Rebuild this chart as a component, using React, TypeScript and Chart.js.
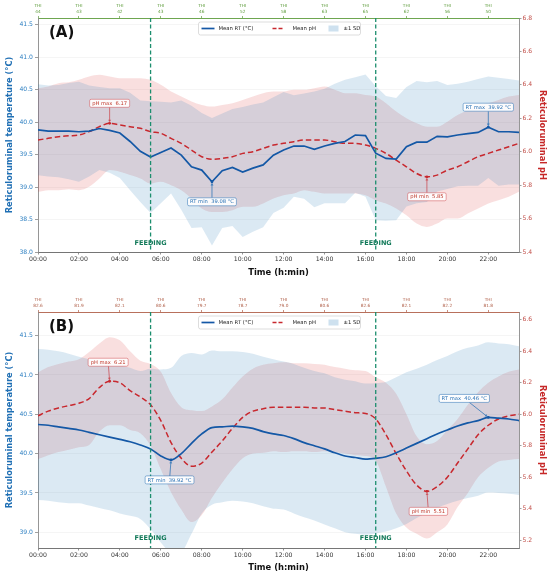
import { useEffect, useRef } from 'react';
import { Chart, registerables } from 'chart.js';

Chart.register(...registerables);

const FONT = "'DejaVu Sans', 'Liberation Sans', sans-serif";

const BLUE = '#1458a6';
const RED = '#c8282e';
const BLUE_BAND = 'rgba(31,119,180,0.16)';
const RED_BAND = 'rgba(214,39,40,0.15)';
const FEED = '#1c8e6e';

// half-hour samples, hours since midnight
const hours = [0, 0.5, 1, 1.5, 2, 2.5, 3, 3.5, 4, 4.5, 5, 5.5, 6, 6.5, 7, 7.5, 8, 8.5, 9, 9.5, 10, 10.5, 11, 11.5,
  12, 12.5, 13, 13.5, 14, 14.5, 15, 15.5, 16, 16.5, 17, 17.5, 18, 18.5, 19, 19.5, 20, 20.5, 21, 21.5, 22, 22.5, 23, 23.5];

const timeTickHours = [0, 2, 4, 6, 8, 10, 12, 14, 16, 18, 20, 22];
const timeTickLabels = ['00:00', '02:00', '04:00', '06:00', '08:00', '10:00', '12:00', '14:00', '16:00', '18:00', '20:00', '22:00'];
const feedingHours = [5.5, 16.5];

// panel A
const thiA = ['44', '43', '42', '43', '46', '52', '58', '63', '65', '62', '56', '50'];
const rtMeanA = [39.88, 39.86, 39.86, 39.86, 39.85, 39.86, 39.90, 39.87, 39.83, 39.70, 39.55, 39.46, 39.53, 39.60, 39.49, 39.31,
  39.26, 39.08, 39.25, 39.30, 39.23, 39.29, 39.34, 39.49, 39.57, 39.63, 39.63, 39.58, 39.63, 39.67, 39.70, 39.80,
  39.79, 39.52, 39.44, 39.43, 39.62, 39.69, 39.69, 39.78, 39.77, 39.80, 39.82, 39.84, 39.92, 39.85, 39.85, 39.84];
const rtSdA = [0.70, 0.70, 0.71, 0.74, 0.77, 0.70, 0.64, 0.65, 0.69, 0.75, 0.78, 0.86, 0.78, 0.70, 0.84, 0.94,
  0.88, 0.98, 0.88, 0.90, 1.00, 0.98, 0.96, 0.89, 0.89, 0.78, 0.81, 0.89, 0.88, 0.92, 0.95, 0.89,
  0.94, 1.03, 0.96, 0.94, 0.92, 0.94, 0.92, 0.85, 0.80, 0.79, 0.80, 0.82, 0.78, 0.83, 0.81, 0.80];
const phMeanA = [6.07, 6.08, 6.09, 6.095, 6.10, 6.12, 6.15, 6.17, 6.16, 6.15, 6.14, 6.12, 6.11, 6.08, 6.05, 6.01,
  5.97, 5.955, 5.96, 5.97, 5.99, 6.00, 6.02, 6.04, 6.05, 6.06, 6.07, 6.07, 6.07, 6.06, 6.05, 6.05,
  6.04, 6.02, 5.99, 5.95, 5.91, 5.87, 5.85, 5.86, 5.89, 5.91, 5.94, 5.97, 5.99, 6.01, 6.03, 6.05];
const phSdA = [0.31, 0.31, 0.32, 0.32, 0.33, 0.33, 0.31, 0.28, 0.28, 0.29, 0.30, 0.31, 0.29, 0.28, 0.28, 0.29,
  0.31, 0.315, 0.32, 0.32, 0.32, 0.33, 0.33, 0.32, 0.31, 0.31, 0.30, 0.31, 0.32, 0.31, 0.30, 0.30,
  0.30, 0.31, 0.30, 0.29, 0.29, 0.30, 0.30, 0.29, 0.29, 0.31, 0.31, 0.31, 0.30, 0.30, 0.30, 0.29];
const rtTicksA = [38.0, 38.5, 39.0, 39.5, 40.0, 40.5, 41.0, 41.5];
const phTicksA = [5.4, 5.6, 5.8, 6.0, 6.2, 6.4, 6.6, 6.8];

// panel B
const thiB = ['82.6', '81.9', '82.1', '80.6', '79.7', '78.7', '79.0', '80.6', '82.6', '82.1', '82.2', '81.8'];
const rtMeanB = [40.37, 40.36, 40.34, 40.32, 40.30, 40.27, 40.24, 40.21, 40.18, 40.15, 40.11, 40.06, 39.97, 39.92, 40.00, 40.13,
  40.25, 40.33, 40.34, 40.35, 40.34, 40.32, 40.28, 40.25, 40.23, 40.19, 40.14, 40.10, 40.06, 40.01, 39.97, 39.95,
  39.93, 39.94, 39.96, 40.01, 40.07, 40.13, 40.19, 40.25, 40.30, 40.35, 40.39, 40.42, 40.46, 40.45, 40.44, 40.42];
const rtSdB = [0.96, 0.96, 0.96, 0.95, 0.93, 0.93, 0.93, 0.93, 0.94, 0.94, 0.94, 1.02, 1.10, 1.17, 1.24, 1.15,
  1.01, 0.98, 0.96, 0.95, 0.95, 0.95, 0.95, 0.95, 0.94, 0.95, 0.95, 0.95, 0.96, 0.96, 0.97, 0.97,
  0.96, 0.955, 0.95, 0.96, 0.965, 0.95, 0.94, 0.94, 0.94, 0.95, 0.955, 0.955, 0.955, 0.95, 0.95, 0.945];
const phMeanB = [5.99, 6.02, 6.04, 6.055, 6.07, 6.10, 6.17, 6.21, 6.20, 6.15, 6.11, 6.06, 5.96, 5.82, 5.72, 5.67,
  5.69, 5.76, 5.83, 5.91, 5.98, 6.02, 6.035, 6.045, 6.045, 6.045, 6.045, 6.04, 6.04, 6.03, 6.02, 6.01,
  6.005, 5.97, 5.87, 5.75, 5.64, 5.55, 5.51, 5.54, 5.60, 5.69, 5.78, 5.87, 5.93, 5.97, 5.99, 6.00];
const phSdB = [0.275, 0.28, 0.28, 0.28, 0.28, 0.295, 0.28, 0.28, 0.27, 0.25, 0.23, 0.26, 0.31, 0.315, 0.325, 0.355,
  0.33, 0.29, 0.265, 0.26, 0.26, 0.27, 0.28, 0.28, 0.285, 0.28, 0.28, 0.28, 0.275, 0.27, 0.27, 0.27,
  0.27, 0.265, 0.33, 0.38, 0.36, 0.31, 0.30, 0.29, 0.30, 0.28, 0.28, 0.27, 0.27, 0.27, 0.28, 0.285];
const rtTicksB = [39.0, 39.5, 40.0, 40.5, 41.0, 41.5];
const phTicksB = [5.2, 5.4, 5.6, 5.8, 6.0, 6.2, 6.4, 6.6];

interface Note { series: 'rt' | 'ph'; kind: 'max' | 'min'; dx: number; dy: number }

interface Panel {
  label: string;
  thi: string[];
  thiColor: string;
  rtMean: number[];
  rtSd: number[];
  phMean: number[];
  phSd: number[];
  rtMin: number;
  rtMax: number;
  phMin: number;
  phMax: number;
  rtTicks: number[];
  phTicks: number[];
  smoothRt: boolean;
  topH: number;
  bottomH: number;
  xTitlePad: number;
  feedOff: number;
  notes: Note[];
}

const panelA: Panel = {
  label: '(A)', thi: thiA, thiColor: '#5e9c3c',
  rtMean: rtMeanA, rtSd: rtSdA, phMean: phMeanA, phSd: phSdA,
  rtMin: 38.0, rtMax: 41.6, phMin: 5.4, phMax: 6.8,
  rtTicks: rtTicksA, phTicks: phTicksA, smoothRt: false,
  topH: 18, bottomH: 36, xTitlePad: 10, feedOff: 9,
  notes: [
    { series: 'ph', kind: 'max', dx: 0, dy: -20 },
    { series: 'rt', kind: 'min', dx: 0, dy: 20 },
    { series: 'rt', kind: 'max', dx: 0, dy: -20 },
    { series: 'ph', kind: 'min', dx: 0, dy: 20 },
  ],
};

const panelB: Panel = {
  label: '(B)', thi: thiB, thiColor: '#b0604a',
  rtMean: rtMeanB, rtSd: rtSdB, phMean: phMeanB, phSd: phSdB,
  rtMin: 38.8, rtMax: 41.8, phMin: 5.15, phMax: 6.65,
  rtTicks: rtTicksB, phTicks: phTicksB, smoothRt: true,
  topH: 24, bottomH: 28, xTitlePad: 3, feedOff: 10,
  notes: [
    { series: 'ph', kind: 'max', dx: -1.5, dy: -19 },
    { series: 'rt', kind: 'min', dx: -1.5, dy: 20 },
    { series: 'rt', kind: 'max', dx: -24, dy: -19 },
    { series: 'ph', kind: 'min', dx: 1.5, dy: 20 },
  ],
};

const pts = (ys: number[]) => hours.map((h, i) => ({ x: h, y: ys[i] }));
const band = (m: number[], s: number[], sign: number) => hours.map((h, i) => ({ x: h, y: m[i] + sign * s[i] }));

function roundRect(ctx: CanvasRenderingContext2D, x: number, y: number, w: number, h: number, r: number) {
  ctx.beginPath();
  ctx.moveTo(x + r, y);
  ctx.lineTo(x + w - r, y);
  ctx.quadraticCurveTo(x + w, y, x + w, y + r);
  ctx.lineTo(x + w, y + h - r);
  ctx.quadraticCurveTo(x + w, y + h, x + w - r, y + h);
  ctx.lineTo(x + r, y + h);
  ctx.quadraticCurveTo(x, y + h, x, y + h - r);
  ctx.lineTo(x, y + r);
  ctx.quadraticCurveTo(x, y, x + r, y);
  ctx.closePath();
}

function drawNote(ctx: CanvasRenderingContext2D, px: number, py: number, n: Note, value: number) {
  const color = n.series === 'rt' ? BLUE : RED;
  const textColor = n.series === 'rt' ? '#2a72b5' : '#c0392b';
  const edge = n.series === 'rt' ? 'rgba(42,114,181,0.75)' : 'rgba(200,40,46,0.6)';
  const text = n.series === 'rt'
    ? `RT ${n.kind}  ${value.toFixed(2)} °C`
    : `pH ${n.kind}  ${value.toFixed(2)}`;
  ctx.font = `5.2px ${FONT}`;
  const w = ctx.measureText(text).width + 5;
  const h = 8;
  const cx = px + n.dx;
  const cy = py + n.dy;
  // arrow from box edge to the point
  const ddx = px - cx;
  const ddy = py - cy;
  const tx = ddx === 0 ? Infinity : (w / 2) / Math.abs(ddx);
  const ty = ddy === 0 ? Infinity : (h / 2) / Math.abs(ddy);
  const t = Math.min(tx, ty);
  const sx = cx + ddx * t;
  const sy = cy + ddy * t;
  const len = Math.hypot(px - sx, py - sy);
  const ux = (px - sx) / len;
  const uy = (py - sy) / len;
  ctx.strokeStyle = edge;
  ctx.lineWidth = 1;
  ctx.beginPath();
  ctx.moveTo(sx, sy);
  ctx.lineTo(px - ux * 2.5, py - uy * 2.5);
  ctx.stroke();
  ctx.fillStyle = edge;
  ctx.beginPath();
  ctx.moveTo(px - ux * 0.8, py - uy * 0.8);
  ctx.lineTo(px - ux * 3.6 - uy * 1.5, py - uy * 3.6 + ux * 1.5);
  ctx.lineTo(px - ux * 3.6 + uy * 1.5, py - uy * 3.6 - ux * 1.5);
  ctx.closePath();
  ctx.fill();
  ctx.fillStyle = color;
  ctx.beginPath();
  ctx.arc(px, py, 1.4, 0, Math.PI * 2);
  ctx.fill();
  // box
  roundRect(ctx, cx - w / 2, cy - h / 2, w, h, 1.5);
  ctx.fillStyle = 'rgba(255,255,255,0.92)';
  ctx.fill();
  ctx.strokeStyle = edge;
  ctx.lineWidth = 0.7;
  ctx.stroke();
  ctx.fillStyle = textColor;
  ctx.textAlign = 'center';
  ctx.textBaseline = 'middle';
  ctx.fillText(text, cx, cy + 0.3);
}

function drawLegend(ctx: CanvasRenderingContext2D, a: { left: number; right: number; top: number }) {
  const w = 162;
  const h = 13;
  const L = (a.left + a.right) / 2 - 80;
  const T = a.top + 4;
  const my = T + h / 2;
  roundRect(ctx, L, T, w, h, 2);
  ctx.fillStyle = 'rgba(255,255,255,0.88)';
  ctx.fill();
  ctx.strokeStyle = '#cfcfcf';
  ctx.lineWidth = 0.7;
  ctx.stroke();
  ctx.lineWidth = 1.7;
  ctx.strokeStyle = BLUE;
  ctx.beginPath();
  ctx.moveTo(L + 3, my);
  ctx.lineTo(L + 16, my);
  ctx.stroke();
  ctx.strokeStyle = RED;
  ctx.lineWidth = 1.5;
  ctx.setLineDash([4, 2]);
  ctx.beginPath();
  ctx.moveTo(L + 74, my);
  ctx.lineTo(L + 86, my);
  ctx.stroke();
  ctx.setLineDash([]);
  ctx.fillStyle = 'rgba(31,119,180,0.22)';
  ctx.fillRect(L + 130, my - 3, 10, 6);
  ctx.fillStyle = '#222';
  ctx.font = `5.3px ${FONT}`;
  ctx.textAlign = 'left';
  ctx.textBaseline = 'middle';
  ctx.fillText('Mean RT (°C)', L + 20, my);
  ctx.fillText('Mean pH', L + 94, my);
  ctx.fillText('±1 SD', L + 145, my);
}

const overlay = (p: Panel) => ({
  id: 'overlay',
  afterDatasetsDraw(chart: any) {
    const { ctx, chartArea: a, scales } = chart;
    const x = scales.x;
    const yT = scales.y;
    const yP = scales.y1;
    ctx.save();

    feedingHours.forEach((hr) => {
      const px = x.getPixelForValue(hr);
      ctx.strokeStyle = FEED;
      ctx.lineWidth = 1.3;
      ctx.setLineDash([4, 2.5]);
      ctx.beginPath();
      ctx.moveTo(px, a.top);
      ctx.lineTo(px, a.bottom);
      ctx.stroke();
      ctx.setLineDash([]);
      ctx.fillStyle = '#137a5a';
      ctx.font = `bold 6.5px ${FONT}`;
      ctx.textAlign = 'center';
      ctx.textBaseline = 'middle';
      ctx.fillText('FEEDING', px, a.bottom - p.feedOff);
    });

    p.notes.forEach((n) => {
      const arr = n.series === 'rt' ? p.rtMean : p.phMean;
      const v = n.kind === 'max' ? Math.max(...arr) : Math.min(...arr);
      const i = arr.indexOf(v);
      const px = x.getPixelForValue(hours[i]);
      const py = (n.series === 'rt' ? yT : yP).getPixelForValue(v);
      drawNote(ctx, px, py, n, v);
    });

    drawLegend(ctx, a);

    ctx.fillStyle = '#111';
    ctx.font = `bold 15px ${FONT}`;
    ctx.textAlign = 'left';
    ctx.textBaseline = 'middle';
    ctx.fillText(p.label, a.left + 11, a.top + 15);
    ctx.restore();
  },
});

function buildConfig(p: Panel): any {
  const smooth = 'monotone';
  return {
    type: 'line',
    data: {
      datasets: [
        {
          label: 'Mean RT (°C)', data: pts(p.rtMean), yAxisID: 'y', borderColor: BLUE, borderWidth: 1.7,
          pointRadius: 0, fill: false, cubicInterpolationMode: p.smoothRt ? smooth : 'default', tension: 0,
        },
        {
          label: 'Mean pH', data: pts(p.phMean), yAxisID: 'y1', borderColor: RED, borderWidth: 1.5,
          borderDash: [5.5, 3], pointRadius: 0, fill: false, cubicInterpolationMode: smooth,
        },
        {
          label: 'RT +SD', data: band(p.rtMean, p.rtSd, 1), yAxisID: 'y', borderWidth: 0, borderColor: 'transparent',
          pointRadius: 0, fill: false, cubicInterpolationMode: p.smoothRt ? smooth : 'default', tension: 0,
        },
        {
          label: 'RT -SD', data: band(p.rtMean, p.rtSd, -1), yAxisID: 'y', borderWidth: 0, borderColor: 'transparent',
          pointRadius: 0, fill: '-1', backgroundColor: BLUE_BAND, cubicInterpolationMode: p.smoothRt ? smooth : 'default', tension: 0,
        },
        {
          label: 'pH +SD', data: band(p.phMean, p.phSd, 1), yAxisID: 'y1', borderWidth: 0, borderColor: 'transparent',
          pointRadius: 0, fill: false, cubicInterpolationMode: smooth,
        },
        {
          label: 'pH -SD', data: band(p.phMean, p.phSd, -1), yAxisID: 'y1', borderWidth: 0, borderColor: 'transparent',
          pointRadius: 0, fill: '-1', backgroundColor: RED_BAND, cubicInterpolationMode: smooth,
        },
      ],
    },
    options: {
      animation: false,
      responsive: false,
      events: [],
      layout: { padding: 0 },
      plugins: { legend: { display: false }, tooltip: { enabled: false } },
      scales: {
        x: {
          type: 'linear', position: 'bottom', min: 0, max: 23.5,
          afterBuildTicks: (s: any) => { s.ticks = timeTickHours.map((v) => ({ value: v })); },
          afterFit: (s: any) => { s.height = p.bottomH; },
          ticks: {
            callback: (v: number) => timeTickLabels[timeTickHours.indexOf(v)],
            color: '#333', font: { family: FONT, size: 6.2 }, padding: 1, maxRotation: 0, autoSkip: false,
          },
          grid: { drawOnChartArea: false, tickLength: 2.5, tickColor: '#666', tickWidth: 0.7 },
          border: { color: '#666', width: 0.9 },
          title: {
            display: true, text: 'Time (h:min)', color: '#111',
            font: { family: FONT, size: 8.4, weight: 'bold' }, padding: { top: 0, bottom: p.xTitlePad },
          },
        },
        xTop: {
          type: 'linear', position: 'top', min: 0, max: 23.5,
          afterBuildTicks: (s: any) => { s.ticks = timeTickHours.map((v) => ({ value: v })); },
          afterFit: (s: any) => { s.height = p.topH; },
          ticks: {
            callback: (v: number) => ['THI', p.thi[timeTickHours.indexOf(v)]],
            color: p.thiColor, font: { family: FONT, size: 4.3, lineHeight: 1.35 }, padding: 1, maxRotation: 0, autoSkip: false,
          },
          grid: { drawOnChartArea: false, tickLength: 2, tickColor: p.thiColor, tickWidth: 0.7 },
          border: { color: p.thiColor, width: 0.9 },
        },
        y: {
          type: 'linear', position: 'left', min: p.rtMin, max: p.rtMax,
          afterBuildTicks: (s: any) => { s.ticks = p.rtTicks.map((v) => ({ value: v })); },
          afterFit: (s: any) => { s.width = 38; },
          ticks: { callback: (v: number) => v.toFixed(1), color: '#2f80c2', font: { family: FONT, size: 6.1 }, padding: 2 },
          grid: { color: 'rgba(0,0,0,0.07)', lineWidth: 0.6, tickLength: 3, tickColor: '#777', tickWidth: 0.7 },
          border: { color: '#8a8a8a', width: 0.9 },
          title: {
            display: true, text: 'Reticuloruminal temperature (°C)', color: '#1f6fb4',
            font: { family: FONT, size: 8.3, weight: 'bold' }, padding: { top: 5, bottom: 0 },
          },
        },
        y1: {
          type: 'linear', position: 'right', min: p.phMin, max: p.phMax,
          afterBuildTicks: (s: any) => { s.ticks = p.phTicks.map((v) => ({ value: v })); },
          afterFit: (s: any) => { s.width = 31; },
          ticks: { callback: (v: number) => v.toFixed(1), color: '#c2504a', font: { family: FONT, size: 6.1 }, padding: 1 },
          grid: { drawOnChartArea: false, tickLength: 2.5, tickColor: '#777', tickWidth: 0.7 },
          border: { color: '#8a8a8a', width: 0.9 },
          title: {
            display: true, text: 'Reticuloruminal pH', color: '#c62828',
            font: { family: FONT, size: 8.3, weight: 'bold' }, padding: { top: 3, bottom: 0 },
          },
        },
      },
    },
    plugins: [overlay(p)],
  };
}

function PanelChart({ p }: { p: Panel }) {
  const ref = useRef<HTMLCanvasElement>(null);
  useEffect(() => {
    if (!ref.current) return;
    const chart = new Chart(ref.current, buildConfig(p));
    return () => chart.destroy();
  }, [p]);
  return <canvas ref={ref} width={550} height={288} style={{ display: 'block', width: 550, height: 288 }} />;
}

export default function App() {
  return (
    <div style={{ position: 'absolute', left: 0, top: 0, width: 550, height: 576, background: '#fff' }}>
      <PanelChart p={panelA} />
      <PanelChart p={panelB} />
    </div>
  );
}
